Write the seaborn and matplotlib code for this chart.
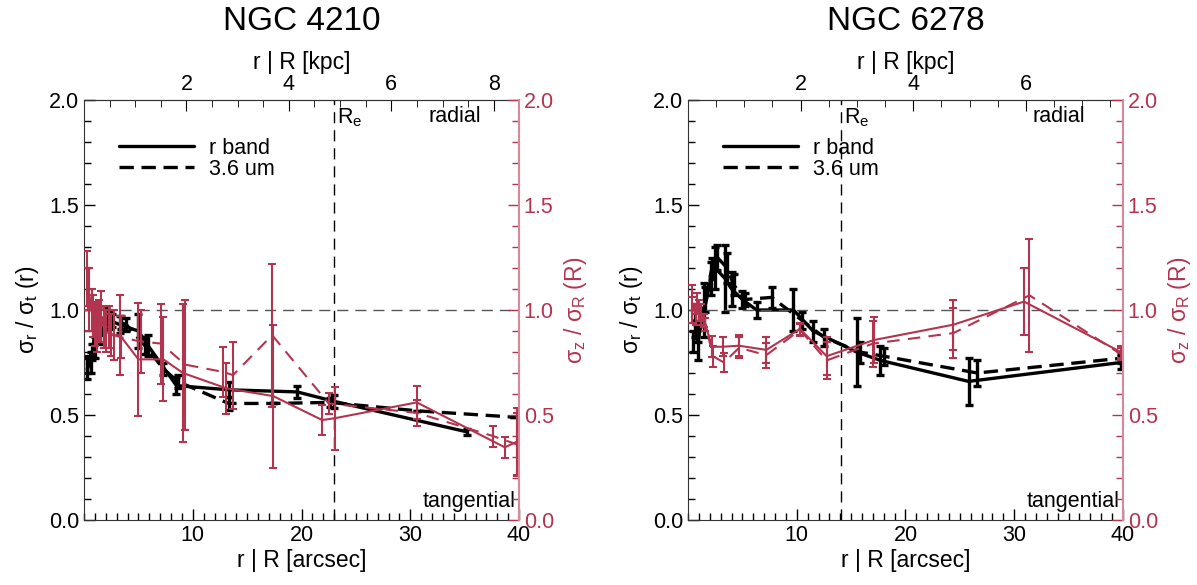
import matplotlib.pyplot as plt
import matplotlib.ticker as mticker
import seaborn as sns

RED = '#b3344f'
RED_SPINE = '#d58a9b'

# NGC 4210 -- radius in arcsec, anisotropy values, errors
n4210_r_x = [0.3, 0.6, 1.0, 1.2, 1.5, 2.0, 2.4, 3.3, 5.0, 5.9, 8.5, 13.3, 19.6, 23.0, 35.2]
n4210_r_y = [0.72, 0.75, 0.82, 0.93, 0.88, 0.97, 0.95, 0.93, 0.90, 0.83, 0.64, 0.62, 0.61, 0.565, 0.42]
n4210_r_e = [0.05, 0.05, 0.05, 0.04, 0.04, 0.04, 0.04, 0.04, 0.08, 0.05, 0.04, 0.035, 0.03, 0.03, 0.015]

n4210_irac_x = [0.3, 0.7, 1.1, 1.6, 2.1, 2.6, 3.4, 3.9, 5.6, 7.3, 8.6, 13.3, 17.4, 22.6, 30.6, 39.5]
n4210_irac_y = [0.74, 0.80, 0.90, 0.92, 0.96, 0.95, 0.94, 0.93, 0.83, 0.72, 0.66, 0.555, 0.555, 0.56, 0.52, 0.49]
n4210_irac_e = [0.04, 0.04, 0.04, 0.04, 0.04, 0.03, 0.03, 0.03, 0.04, 0.03, 0.03, 0.03, 0.0, 0.02, 0.0, 0.0]

n4210_z_x = [0.3, 0.5, 0.8, 1.2, 1.6, 2.0, 2.5, 3.3, 5.0, 7.3, 9.1, 13.1, 17.4, 21.9, 23.1, 30.6, 38.7, 39.8]
n4210_z_y = [1.15, 1.05, 0.97, 0.92, 0.97, 0.90, 0.88, 0.88, 0.765, 0.765, 0.70, 0.627, 0.59, 0.476, 0.485, 0.56, 0.346, 0.373]
n4210_z_e = [0.13, 0.15, 0.10, 0.12, 0.12, 0.10, 0.10, 0.19, 0.27, 0.20, 0.33, 0.12, 0.34, 0.07, 0.15, 0.08, 0.05, 0.16]

n4210_zd_x = [0.4, 0.7, 1.0, 1.4, 1.8, 2.3, 2.8, 3.4, 5.2, 7.1, 9.3, 12.8, 13.7, 17.3, 22.5, 30.6, 37.6, 39.8]
n4210_zd_y = [1.10, 1.00, 0.93, 0.95, 0.92, 0.92, 0.88, 0.87, 0.85, 0.84, 0.74, 0.705, 0.69, 0.88, 0.555, 0.51, 0.40, 0.36]
n4210_zd_e = [0.10, 0.10, 0.10, 0.10, 0.10, 0.10, 0.12, 0.10, 0.15, 0.19, 0.31, 0.12, 0.16, 0.34, 0.05, 0.06, 0.05, 0.15]

# NGC 6278
n6278_r_x = [0.6, 0.9, 1.5, 2.1, 2.5, 3.4, 4.0, 5.0, 6.3, 9.7, 11.5, 15.5, 17.7, 25.8, 39.8]
n6278_r_y = [0.95, 0.85, 1.00, 1.15, 1.20, 1.15, 1.10, 1.05, 1.00, 1.00, 0.90, 0.80, 0.76, 0.66, 0.75]
n6278_r_e = [0.08, 0.09, 0.13, 0.08, 0.10, 0.16, 0.08, 0.04, 0.04, 0.10, 0.05, 0.16, 0.07, 0.11, 0.03]

n6278_irac_x = [0.5, 0.9, 1.6, 2.2, 2.7, 3.6, 4.2, 5.2, 7.7, 10.5, 12.5, 15.8, 18.0, 26.6, 39.8]
n6278_irac_y = [0.85, 0.90, 1.05, 1.20, 1.25, 1.20, 1.12, 1.05, 1.06, 0.95, 0.87, 0.80, 0.78, 0.70, 0.77]
n6278_irac_e = [0.05, 0.05, 0.06, 0.05, 0.06, 0.07, 0.05, 0.03, 0.05, 0.04, 0.04, 0.05, 0.04, 0.06, 0.02]

n6278_z_x = [0.4, 0.7, 1.0, 1.5, 2.2, 3.2, 4.7, 7.2, 10.3, 12.75, 17.1, 24.4, 30.9, 39.8]
n6278_z_y = [1.03, 0.98, 1.00, 0.95, 0.825, 0.825, 0.83, 0.81, 0.91, 0.78, 0.857, 0.93, 1.04, 0.80]
n6278_z_e = [0.09, 0.05, 0.05, 0.03, 0.05, 0.045, 0.05, 0.06, 0.03, 0.09, 0.11, 0.12, 0.16, 0.03]

n6278_zd_x = [0.4, 0.8, 1.2, 1.6, 2.3, 3.3, 4.7, 7.2, 10.3, 12.75, 17.0, 24.4, 31.4, 39.8]
n6278_zd_y = [1.00, 1.03, 0.98, 0.93, 0.78, 0.75, 0.82, 0.785, 0.905, 0.76, 0.84, 0.89, 1.07, 0.79]
n6278_zd_e = [0.06, 0.05, 0.05, 0.03, 0.05, 0.045, 0.05, 0.06, 0.03, 0.09, 0.11, 0.12, 0.27, 0.03]

sns.set_style('ticks')
plt.rcParams['font.family'] = ['Liberation Sans', 'DejaVu Sans']
plt.rcParams['mathtext.fontset'] = 'custom'
plt.rcParams['mathtext.rm'] = 'Liberation Sans'
plt.rcParams['mathtext.default'] = 'regular'
plt.rcParams['text.color'] = 'black'
plt.rcParams['axes.labelcolor'] = 'black'
plt.rcParams['xtick.color'] = 'black'
plt.rcParams['ytick.color'] = 'black'

fig = plt.figure(figsize=(11.97, 5.85), dpi=100)


def draw_series(ax, x, y, e, color, lw, dashed, label=None):
    sns.lineplot(x=x, y=y, ax=ax, color=color, lw=lw, sort=False, estimator=None, label=label)
    line = ax.lines[-1]
    if dashed:
        line.set_dashes((4.3, 2.3) if color == 'k' else (6, 4))
    ax.errorbar(x, y, yerr=e, fmt='none', ecolor=color, elinewidth=lw, capsize=3, capthick=lw)


def draw_panel(rect, title, re, scale, kpc_ticks, r_band, irac, z_solid, z_dashed):
    ax = fig.add_axes(rect)
    axr = ax.twinx()

    draw_series(ax, *r_band, 'k', 2.4, False, 'r band')
    draw_series(ax, *irac, 'k', 2.4, True, '3.6 um')
    draw_series(axr, *z_solid, RED, 1.5, False)
    draw_series(axr, *z_dashed, RED, 1.5, True)

    ax.axhline(1.0, color='#555555', lw=1, dashes=(8, 5))
    ax.axvline(re, color='k', lw=1, dashes=(8, 5))

    ax.set_xlim(0, 40)
    ax.set_ylim(0, 2)
    axr.set_ylim(0, 2)
    ax.set_xticks([10, 20, 30, 40])
    ax.xaxis.set_minor_locator(mticker.MultipleLocator(1))
    for a in (ax, axr):
        a.set_yticks([0, 0.5, 1.0, 1.5, 2.0])
        a.yaxis.set_major_formatter(mticker.FormatStrFormatter('%.1f'))
        a.yaxis.set_minor_locator(mticker.MultipleLocator(0.1))

    ax.tick_params(which='both', direction='in', labelsize=15.5, right=False, top=False)
    ax.tick_params(which='major', length=8, width=1)
    ax.tick_params(which='minor', length=5, width=1)
    axr.tick_params(which='both', direction='in', labelsize=15.5, colors=RED)
    axr.tick_params(which='major', length=8, width=1)
    axr.tick_params(which='minor', length=5, width=1)
    axr.spines['right'].set_color(RED_SPINE)
    axr.spines['right'].set_linewidth(1.5)
    ax.spines['right'].set_visible(False)
    for s in ('left', 'bottom', 'top'):
        ax.spines[s].set_color('#333333')
        axr.spines[s].set_visible(False)

    top = ax.secondary_xaxis('top', functions=(lambda v: v / scale, lambda v: v * scale))
    top.set_xticks(kpc_ticks)
    top.xaxis.set_minor_locator(mticker.MultipleLocator(0.5))
    top.tick_params(which='both', direction='in', labelsize=15.5)
    top.tick_params(which='major', length=8)
    top.tick_params(which='minor', length=5)
    top.set_xlabel('r | R [kpc]', fontsize=16.5, labelpad=4)

    ax.set_xlabel('r | R [arcsec]', fontsize=16.5, labelpad=2)
    ax.set_ylabel(r'σ$_r$ / σ$_t$ (r)', fontsize=16.5, labelpad=6)
    axr.set_ylabel(r'σ$_z$ / σ$_R$ (R)', fontsize=16.5, color=RED, labelpad=6)

    ax.text(re + 0.3, 1.97, r'R$_e$', fontsize=15.5, va='top', ha='left')
    ax.text(36.5, 1.97, 'radial', fontsize=15.5, va='top', ha='right')
    ax.text(39.7, 0.04, 'tangential', fontsize=15.5, va='bottom', ha='right')

    ax.legend(loc='upper left', bbox_to_anchor=(0.06, 0.93), frameon=False, fontsize=15.5,
              handlelength=3.5, handletextpad=0.7, labelspacing=0.0, borderaxespad=0)
    if axr.get_legend() is not None:
        axr.get_legend().remove()

    fig.text(rect[0] + rect[2] / 2, 1 - 21 / 585, title, fontsize=24, ha='center', va='center')


draw_panel([84 / 1197, 65 / 585, 435 / 1197, 420 / 585], 'NGC 4210', 23.0, 4.71, [2, 4, 6, 8],
           (n4210_r_x, n4210_r_y, n4210_r_e), (n4210_irac_x, n4210_irac_y, n4210_irac_e),
           (n4210_z_x, n4210_z_y, n4210_z_e), (n4210_zd_x, n4210_zd_y, n4210_zd_e))
draw_panel([688 / 1197, 65 / 585, 435 / 1197, 420 / 585], 'NGC 6278', 14.05, 5.18, [2, 4, 6],
           (n6278_r_x, n6278_r_y, n6278_r_e), (n6278_irac_x, n6278_irac_y, n6278_irac_e),
           (n6278_z_x, n6278_z_y, n6278_z_e), (n6278_zd_x, n6278_zd_y, n6278_zd_e))

fig.savefig('out.png', dpi=100)
